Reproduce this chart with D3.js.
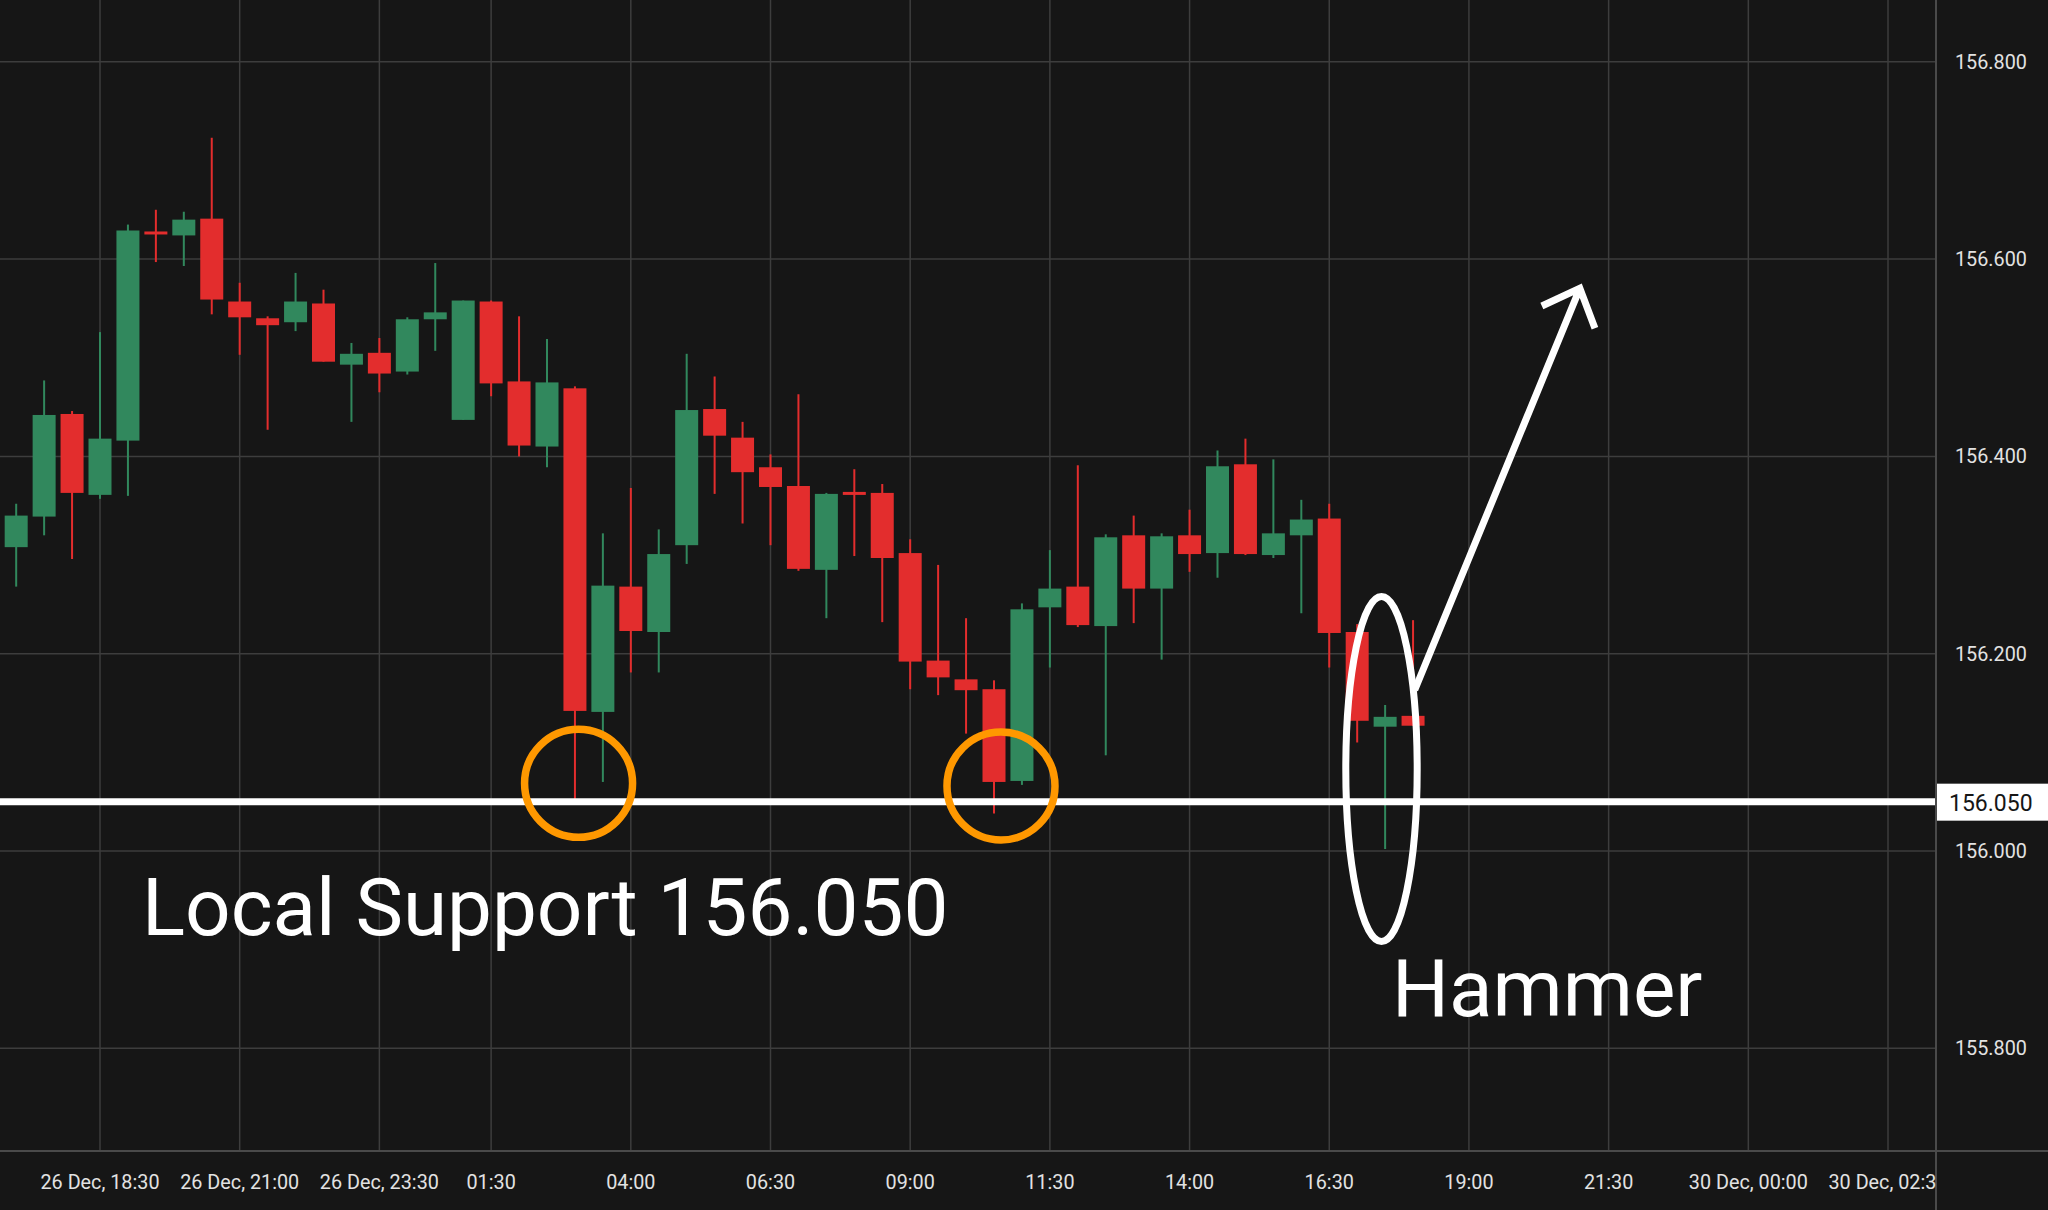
<!DOCTYPE html>
<html><head><meta charset="utf-8">
<script src="https://cdn.jsdelivr.net/npm/d3@7"></script>
<style>html,body{margin:0;padding:0;background:#161616;overflow:hidden}svg{display:block}</style>
</head><body><svg id="c" width="2048" height="1210"></svg>
<script>
// ---- data (30-minute candles) ----
const times = ["26 Dec 17:00","17:30","18:00","18:30","19:00","19:30","20:00","20:30","21:00","21:30",
  "22:00","22:30","23:00","23:30","27 Dec 00:00","00:30","01:00","01:30","02:00","02:30",
  "03:00","03:30","04:00","04:30","05:00","05:30","06:00","06:30","07:00","07:30",
  "08:00","08:30","09:00","09:30","10:00","10:30","11:00","11:30","12:00","12:30",
  "13:00","13:30","14:00","14:30","15:00","15:30","16:00","16:30","17:00","17:30","18:00"];
const open  = [156.308,156.339,156.443,156.361,156.416,156.628,156.624,156.641,156.557,156.540,
  156.536,156.555,156.493,156.505,156.486,156.539,156.437,156.557,156.476,156.410,
  156.469,156.141,156.268,156.222,156.310,156.448,156.419,156.389,156.370,156.285,
  156.364,156.363,156.302,156.193,156.174,156.164,156.071,156.247,156.268,156.228,
  156.320,156.266,156.320,156.302,156.392,156.300,156.320,156.337,156.222,156.126,156.137];
const high  = [156.352,156.477,156.446,156.526,156.635,156.650,156.648,156.723,156.576,156.542,
  156.586,156.569,156.515,156.520,156.541,156.596,156.558,156.558,156.542,156.519,
  156.471,156.322,156.368,156.326,156.504,156.481,156.435,156.402,156.463,156.363,
  156.387,156.372,156.316,156.290,156.236,156.173,156.251,156.305,156.391,156.321,
  156.340,156.322,156.346,156.406,156.418,156.397,156.356,156.352,156.230,156.148,156.234];
const low   = [156.268,156.320,156.296,156.357,156.360,156.597,156.593,156.544,156.503,156.427,
  156.527,156.496,156.435,156.465,156.483,156.507,156.437,156.461,156.400,156.389,
  156.052,156.070,156.181,156.181,156.291,156.362,156.332,156.310,156.284,156.236,
  156.299,156.232,156.164,156.158,156.119,156.038,156.067,156.186,156.227,156.097,
  156.231,156.194,156.283,156.277,156.300,156.297,156.241,156.186,156.110,156.002,156.127];
const close = [156.340,156.442,156.363,156.418,156.629,156.625,156.640,156.559,156.541,156.533,
  156.557,156.496,156.504,156.484,156.539,156.546,156.558,156.474,156.411,156.475,
  156.142,156.269,156.223,156.301,156.447,156.421,156.384,156.369,156.286,156.362,
  156.362,156.297,156.192,156.176,156.163,156.070,156.245,156.266,156.229,156.318,
  156.266,156.319,156.301,156.390,156.301,156.322,156.336,156.221,156.132,156.136,156.127];

const yTicks = [155.8,156.0,156.2,156.4,156.6,156.8];
const xTickSlots  = [3,8,13,17,22,27,32,37,42,47,52,57,62,67];
const xTickLabels = ["26 Dec, 18:30","26 Dec, 21:00","26 Dec, 23:30","01:30","04:00","06:30","09:00",
  "11:30","14:00","16:30","19:00","21:30","30 Dec, 00:00","30 Dec, 02:30"];

const supportLevel = 156.050;
const supportText = "Local Support 156.050";
const hammerText = "Hammer";
// annotations in data space: [slot, price]
const touchCircles = [[20.13,156.0686],[35.25,156.0659]];
const hammerEllipse = [48.87,156.0831];
const arrowStart = [50.06,156.1632], arrowTip = [55.97,156.5704];
const arrowBarbs = [[54.61,156.5525],[56.51,156.530]];

// ---- layout ----
const W=2048, H=1210, plotR=1936, plotB=1151;
const bg="#161616", grid="#3d3d3d", axisLine="#4a4a4a", up="#31885d", dn="#e32d2d", txt="#e2e2e2";
const x = d3.scaleLinear().domain([3,67]).range([100,1888]);
const y = d3.scaleLinear().domain([156,156.8]).range([851,61.8]);
const bodyW = 23;

const svg = d3.select("#c");
svg.append("rect").attr("width",W).attr("height",H).attr("fill",bg);
const defs = svg.append("defs");
defs.append("clipPath").attr("id","plotClip").append("rect").attr("x",0).attr("y",0).attr("width",plotR).attr("height",plotB);
defs.append("clipPath").attr("id","xClip").append("rect").attr("x",0).attr("y",plotB).attr("width",plotR).attr("height",H-plotB);

const plot = svg.append("g").attr("clip-path","url(#plotClip)");
// grid
plot.append("g").selectAll("line").data(yTicks).join("line")
  .attr("x1",0).attr("x2",plotR).attr("y1",d=>y(d)).attr("y2",d=>y(d))
  .attr("stroke",grid).attr("stroke-width",1.5);
plot.append("g").selectAll("line").data(xTickSlots).join("line")
  .attr("x1",d=>x(d)).attr("x2",d=>x(d)).attr("y1",0).attr("y2",plotB)
  .attr("stroke",grid).attr("stroke-width",1.5);

// candles
const candles = times.map((t,i)=>({i,t,o:open[i],h:high[i],l:low[i],c:close[i]}));
const cg = plot.append("g").selectAll("g").data(candles).join("g");
cg.append("rect")
  .attr("x",d=>x(d.i)-1).attr("width",2)
  .attr("y",d=>y(d.h)).attr("height",d=>Math.max(1,y(d.l)-y(d.h)))
  .attr("fill",d=>d.c>=d.o?up:dn);
cg.append("rect")
  .attr("x",d=>x(d.i)-bodyW/2).attr("width",bodyW)
  .attr("y",d=>y(Math.max(d.o,d.c))).attr("height",d=>Math.max(3,Math.abs(y(d.o)-y(d.c))))
  .attr("fill",d=>d.c>=d.o?up:dn);

// support line
plot.append("line").attr("x1",0).attr("x2",plotR).attr("y1",y(supportLevel)).attr("y2",y(supportLevel))
  .attr("stroke","#ffffff").attr("stroke-width",7);

// orange circles
plot.append("g").selectAll("circle").data(touchCircles).join("circle")
  .attr("cx",d=>x(d[0])).attr("cy",d=>y(d[1])).attr("r",54)
  .attr("fill","none").attr("stroke","#ff9800").attr("stroke-width",7.5);

// hammer ellipse
plot.append("ellipse").attr("cx",x(hammerEllipse[0])).attr("cy",y(hammerEllipse[1]))
  .attr("rx",35.7).attr("ry",172.5).attr("fill","none").attr("stroke","#ffffff").attr("stroke-width",7);

// arrow
const P = p=>[x(p[0]),y(p[1])];
plot.append("path")
  .attr("d",d3.line()([P(arrowStart),P(arrowTip)]) + d3.line()([P(arrowBarbs[0]),P(arrowTip),P(arrowBarbs[1])]))
  .attr("fill","none").attr("stroke","#ffffff").attr("stroke-width",7).attr("stroke-linejoin","miter");

// texts
plot.append("text").attr("x",142).attr("y",935).text(supportText)
  .attr("font-family","Roboto").attr("font-size",80).attr("fill","#ffffff");
plot.append("text").attr("x",1392).attr("y",1016).text(hammerText)
  .attr("font-family","Roboto").attr("font-size",80).attr("fill","#ffffff");

// axis separators
svg.append("line").attr("x1",0).attr("x2",W).attr("y1",plotB).attr("y2",plotB).attr("stroke",axisLine).attr("stroke-width",2);
svg.append("line").attr("x1",plotR).attr("x2",plotR).attr("y1",0).attr("y2",H).attr("stroke",axisLine).attr("stroke-width",2);

// y axis labels
svg.append("g").selectAll("text").data(yTicks).join("text")
  .attr("x",1955).attr("y",d=>y(d)).attr("dy","0.35em")
  .text(d=>d3.format(".3f")(d))
  .attr("font-family","Roboto").attr("font-size",19.8).attr("fill",txt);

// x axis labels
svg.append("g").attr("clip-path","url(#xClip)").selectAll("text").data(xTickSlots).join("text")
  .attr("x",d=>x(d)).attr("y",1189).attr("text-anchor","middle")
  .text((d,i)=>xTickLabels[i])
  .attr("font-family","Roboto").attr("font-size",19.8).attr("fill",txt);

// price tag
const ty = y(supportLevel);
svg.append("rect").attr("x",plotR+1).attr("y",ty-18).attr("width",W-plotR).attr("height",37).attr("fill","#ffffff");
svg.append("text").attr("x",1949).attr("y",ty+1).attr("dy","0.36em").text(d3.format(".3f")(supportLevel))
  .attr("font-family","Roboto").attr("font-size",23).attr("fill","#161616");
</script></body></html>
